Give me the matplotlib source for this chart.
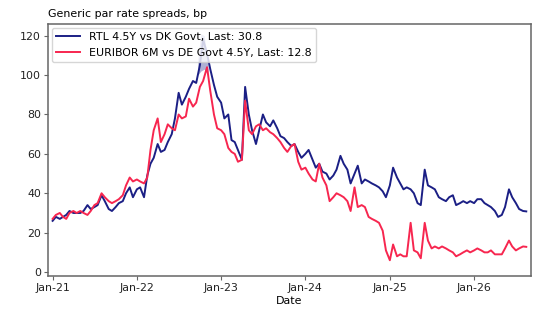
import matplotlib
matplotlib.use("Agg")
import matplotlib.pyplot as plt
import matplotlib.dates as mdates
import numpy as np
import pandas as pd

dates = pd.date_range("2021-01-01", "2026-08-15", freq="SMS")

rtl = [26, 28, 27, 28, 29, 31, 30, 30, 30, 31, 34, 32, 33, 34, 39, 36,
       32, 31, 33, 35, 36, 40, 43, 38, 42, 43, 38, 49, 55, 58, 65, 61,
       62, 66, 70, 78, 91, 85, 89, 93, 97, 96, 105, 118, 111, 103, 95, 89,
       86, 78, 80, 67, 66, 62, 57, 94, 80, 72, 65, 72, 80, 76, 74, 77,
       73, 69, 68, 66, 64, 65, 61, 58, 60, 62, 57, 53, 55, 51, 50, 47,
       49, 52, 59, 55, 52, 45, 50, 54, 45, 47, 46, 45, 44, 43, 41, 38,
       44, 53, 48, 45, 42, 43, 42, 40, 35, 34, 52, 44, 43, 42, 38, 37,
       36, 38, 39, 34, 35, 36, 35, 36, 35, 37, 37, 35, 34, 33, 31, 28,
       29, 33, 42, 38, 35, 32, 31, 30.8]

euribor = [27, 29, 30, 28, 27, 30, 31, 30, 31, 30, 29, 31, 34, 35, 40, 38,
           36, 35, 36, 37, 39, 44, 48, 46, 47, 46, 45, 48, 62, 72, 78, 66,
           70, 75, 73, 72, 80, 78, 79, 88, 84, 86, 94, 97, 104, 92, 80, 73,
           72, 70, 63, 61, 60, 56, 57, 87, 72, 70, 74, 75, 72, 73, 71, 70,
           68, 66, 63, 61, 64, 65, 56, 52, 53, 50, 47, 46, 55, 48, 44, 36,
           38, 40, 39, 38, 36, 31, 43, 33, 34, 33, 28, 27, 26, 25, 21, 11,
           6, 14, 8, 9, 8, 8, 25, 11, 10, 7, 25, 16, 12, 13, 12, 13,
           12, 11, 10, 8, 9, 10, 11, 10, 11, 12, 11, 10, 10, 11, 9, 9,
           9, 12, 16, 13, 11, 12, 13, 12.8]

# intraday range around the late-2022 peak
band_dates = pd.to_datetime(["2022-09-22", "2022-10-05", "2022-10-20", "2022-11-05"])
band_lo = [100, 102, 103, 100]
band_hi = [108, 121, 120, 106]

navy = "#1b1f85"
red = "#f7264f"
fs = 7.9

fig, ax = plt.subplots(figsize=(5.38, 3.14), dpi=100)
fig.subplots_adjust(left=0.089, right=0.987, bottom=0.121, top=0.924)

ax.fill_between(band_dates, band_lo, band_hi, color=navy, alpha=0.35, linewidth=0)
ax.plot(dates, rtl, color=navy, linewidth=1.4,
        label="RTL 4.5Y vs DK Govt, Last: %.1f" % rtl[-1])
ax.plot(dates, euribor, color=red, linewidth=1.4,
        label="EURIBOR 6M vs DE Govt 4.5Y, Last: %.1f" % euribor[-1])

ax.margins(x=0.01)
ax.set_ylim(-2, 126)
ax.set_yticks(np.arange(0, 121, 20))
ax.xaxis.set_major_locator(mdates.YearLocator())
ax.xaxis.set_major_formatter(mdates.DateFormatter("%b-%y"))

for s in ax.spines.values():
    s.set_color("#666666")
    s.set_linewidth(1.1)
ax.tick_params(labelsize=fs, colors="#222222", length=3, pad=2)
ax.tick_params(color="#666666")
ax.set_xlabel("Date", fontsize=fs, labelpad=2)
ax.set_title("Generic par rate spreads, bp", fontsize=fs, loc="left", pad=5)
ax.legend(loc="upper left", fontsize=fs, handlelength=2.2, borderaxespad=0.35)

fig.savefig("out.png", dpi=100)
